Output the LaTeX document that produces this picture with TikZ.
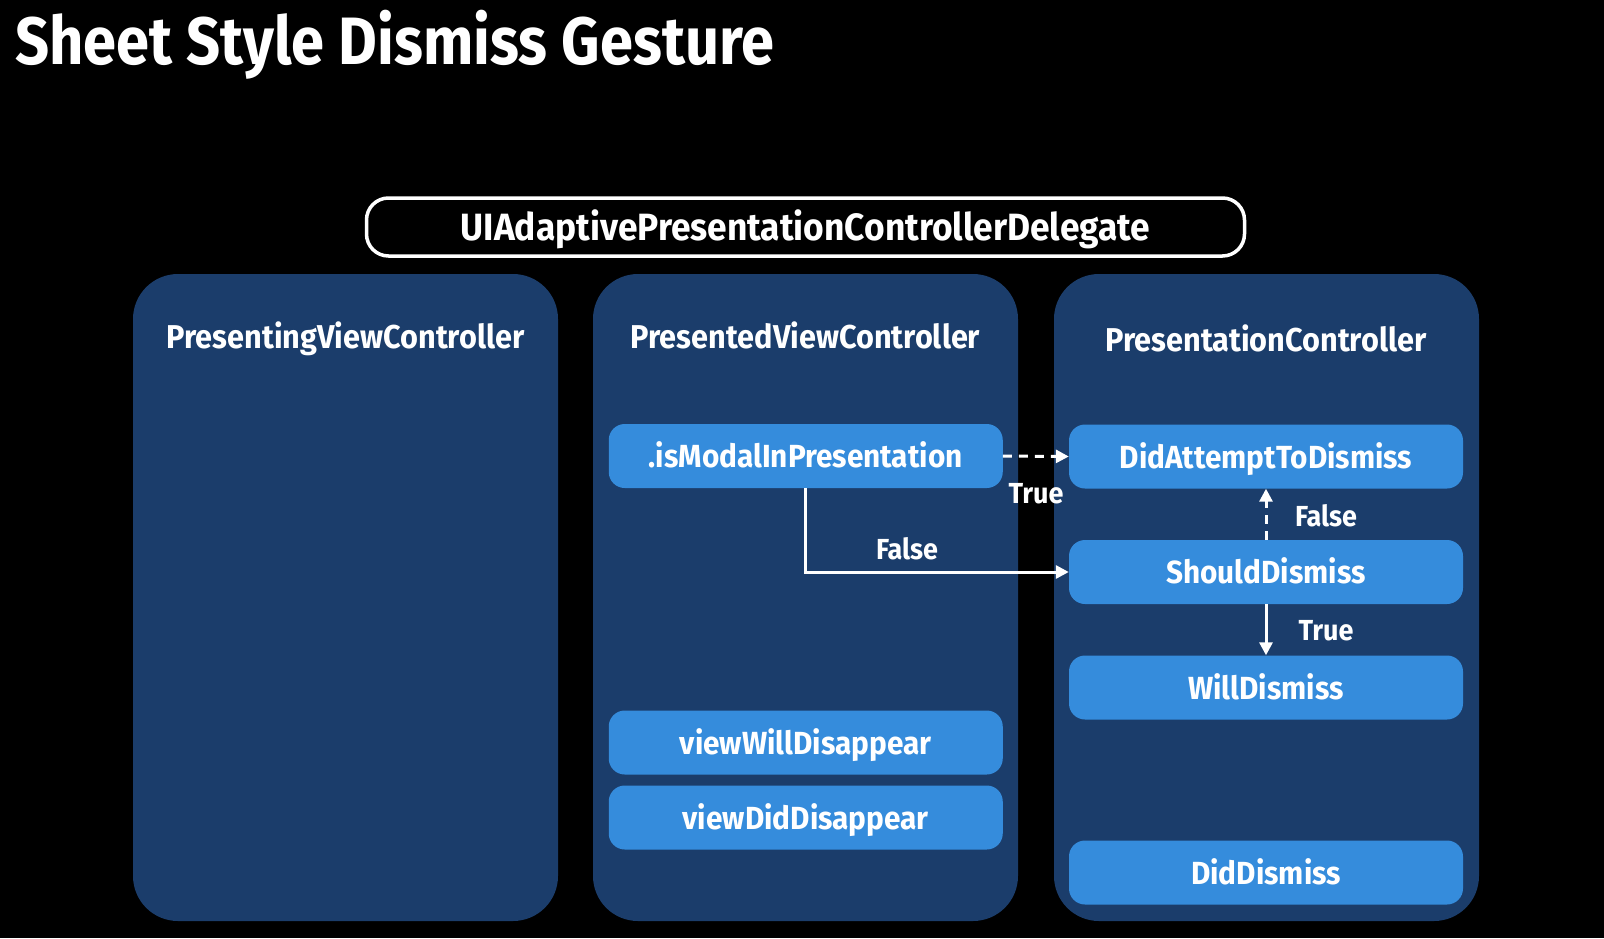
\documentclass[tikz,border=0pt]{standalone}
\usepackage{fontspec}
\setmainfont{Fira Sans}[FakeStretch=0.93]
\newfontfamily\titlefont{Fira Sans}[FakeStretch=0.89]
\usetikzlibrary{arrows.meta}
\definecolor{panelblue}{RGB}{27,61,107}
\definecolor{btnblue}{RGB}{53,140,220}

\begin{document}
\begin{tikzpicture}[x=1pt, y=-1pt,
  panel/.style={fill=panelblue, rounded corners=45pt, minimum width=425pt, minimum height=647pt},
  ptitle/.style={text=white, text height=23pt, text depth=0pt, font=\fontsize{33}{38}\selectfont\bfseries},
  btn/.style={fill=btnblue, rounded corners=16pt, minimum width=394pt, minimum height=64pt, text=white, text height=23pt, text depth=0pt, font=\fontsize{32}{37}\selectfont\bfseries},
  lbl/.style={text=white, font=\fontsize{29}{34}\selectfont\bfseries},
  flow/.style={draw=white, line width=3pt, -{Triangle[length=13pt,width=13pt]}},
  dash flow/.style={flow, dash pattern=on 9pt off 7pt},
]
\fill[black] (0,0) rectangle (1604,938);
\useasboundingbox (0,0) rectangle (1604,938);

\node[anchor=base west, inner sep=0pt, text=white, font=\titlefont\fontsize{67}{72}\selectfont\bfseries] (title) at (15,64) {Sheet Style Dismiss Gesture};

\node[draw=white, line width=3.5pt, rounded corners=22pt, minimum width=878pt, minimum height=58pt, text=white, text height=26pt, text depth=0pt, font=\fontsize{38}{43}\selectfont\bfseries] (delegate) at (805.5,227) {UIAdaptivePresentationControllerDelegate};

% panels
\node[panel] (presenting) at (345.5,597.5) {};
\node[panel] (presented) at (805.5,597.5) {};
\node[panel] (presentation) at (1266.5,597.5) {};

\node[ptitle] (presentingt) at (345.5,337) {PresentingViewController};
\node[ptitle] (presentedt) at (805.5,337) {PresentedViewController};
\node[ptitle] (presentationt) at (1266,340) {PresentationController};

% presented view controller
\node[btn] (ismodal) at (805.75,456) {.isModalInPresentation};
\node[btn] (willdisappear) at (805.75,742.5) {viewWillDisappear};
\node[btn] (diddisappear) at (805.75,817.5) {viewDidDisappear};

% presentation controller
\node[btn] (attempt) at (1266,456.5) {DidAttemptToDismiss};
\node[btn] (should) at (1266,572) {ShouldDismiss};
\node[btn] (willdismiss) at (1266,687.5) {WillDismiss};
\node[btn] (diddismiss) at (1266,872.5) {DidDismiss};

\draw[dash flow] (ismodal.east) -- (attempt.west);
\node[lbl] (modaltrue) at (1036,494) {True};
\draw[flow] (ismodal.south) |- (should.west);
\node[lbl] (modalfalse) at (907,549) {False};
\draw[dash flow] (should.north) -- (attempt.south);
\node[lbl] (shouldfalse) at (1326,515.5) {False};
\draw[flow] (should.south) -- (willdismiss.north);
\node[lbl] (shouldtrue) at (1326,631) {True};
\end{tikzpicture}
\end{document}
